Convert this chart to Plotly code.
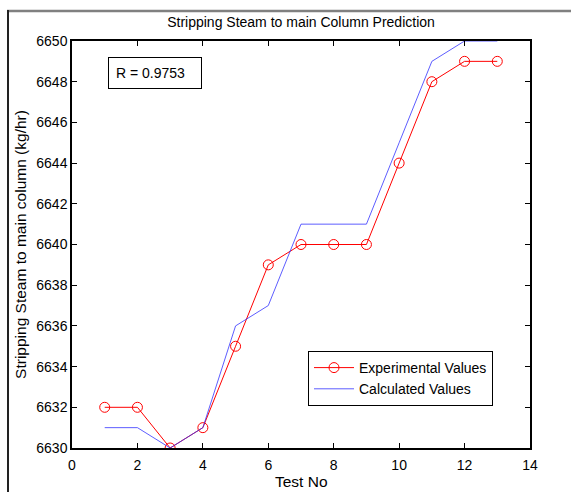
import plotly.graph_objects as go

test_no = [1, 2, 3, 4, 5, 6, 7, 8, 9, 10, 11, 12, 13]
experimental = [6632, 6632, 6630, 6631, 6635, 6639, 6640, 6640, 6640, 6644, 6648, 6649, 6649]
calculated = [6631, 6631, 6630, 6631, 6636, 6637, 6641, 6641, 6641, 6645, 6649, 6650, 6650]
x_ticks = [0, 2, 4, 6, 8, 10, 12, 14]
y_ticks = [6630, 6632, 6634, 6636, 6638, 6640, 6642, 6644, 6646, 6648, 6650]

W, H = 571, 492
L, R, T, B = 72, 530, 41, 448
pw, ph = R - L, B - T

def px(x):
    return (x - L) / pw

def py(y):
    return (B - y) / ph

fig = go.Figure()
fig.add_trace(go.Scatter(
    x=test_no, y=experimental, name="Experimental Values",
    mode="lines+markers",
    line=dict(color="#ff0000", width=1),
    marker=dict(symbol="circle-open", size=10, color="#ff0000", line=dict(width=1)),
))
fig.add_trace(go.Scatter(
    x=test_no, y=calculated, name="Calculated Values",
    mode="lines",
    line=dict(color="#3333ff", width=0.8),
))

fam = "Liberation Sans, Arial, sans-serif"
font = dict(family=fam, size=14, color="#000")
lab_font = dict(family=fam, size=15.5, color="#000")

axis_common = dict(
    showline=True, linecolor="#000", linewidth=1.5, mirror="ticks",
    ticks="inside", ticklen=5, tickcolor="#000", tickwidth=1,
    showgrid=False, zeroline=False, tickfont=font, automargin=False,
)

fig.update_layout(
    width=W, height=H,
    margin=dict(l=L, r=W - R, t=T, b=H - B, autoexpand=False),
    paper_bgcolor="#fff", plot_bgcolor="#fff",
    font=font,
    title=dict(text="Stripping Steam to main Column Prediction", x=0.5, xref="paper",
               y=1 - 22 / H, yanchor="middle", font=font),
    xaxis=dict(range=[0, 14], tickvals=x_ticks, ticklabelstandoff=3, **axis_common),
    yaxis=dict(range=[6630, 6650], tickvals=y_ticks, tickformat="d",
               title=dict(text="Stripping Steam to main column (kg/hr)", font=lab_font, standoff=6), **axis_common),
    showlegend=True,
    legend=dict(x=px(308), y=py(351), xanchor="left", yanchor="top",
                bordercolor="#000", borderwidth=1, bgcolor="#fff", font=font,
                itemwidth=40, tracegroupgap=2),
    annotations=[
        dict(
            text="R = 0.9753", x=px(108), y=py(57), xref="paper", yref="paper",
            xanchor="left", yanchor="top", showarrow=False, align="left",
            bordercolor="#000", borderwidth=1, borderpad=7, bgcolor="#fff",
            width=78, font=font,
        ),
        dict(
            text="Test No", x=0.5, y=py(481), xref="paper", yref="paper",
            xanchor="center", yanchor="middle", showarrow=False, font=lab_font,
        ),
    ],
    shapes=[
        dict(type="line", xref="paper", yref="paper", x0=px(7), x1=px(W + 5), y0=py(11), y1=py(11),
             line=dict(color="#808080", width=2.5)),
        dict(type="line", xref="paper", yref="paper", x0=px(8), x1=px(8), y0=py(10), y1=py(H + 5),
             line=dict(color="#222", width=2)),
    ],
)

fig.write_html("out.html")
